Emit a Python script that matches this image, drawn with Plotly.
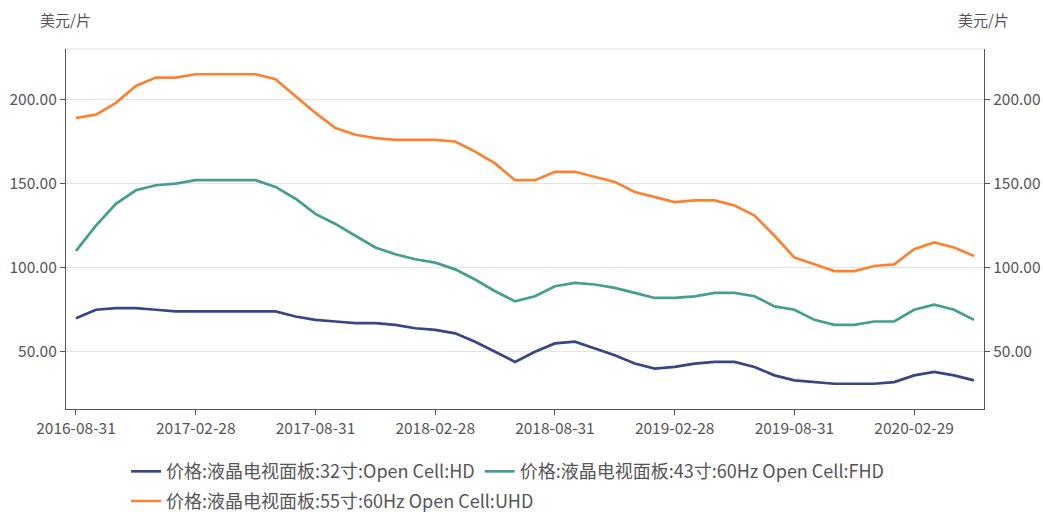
import plotly.graph_objects as go

dates = [
    "2016-08-31", "2016-09-30", "2016-10-31", "2016-11-30", "2016-12-31",
    "2017-01-31", "2017-02-28", "2017-03-31", "2017-04-30", "2017-05-31",
    "2017-06-30", "2017-07-31", "2017-08-31", "2017-09-30", "2017-10-31",
    "2017-11-30", "2017-12-31", "2018-01-31", "2018-02-28", "2018-03-31",
    "2018-04-30", "2018-05-31", "2018-06-30", "2018-07-31", "2018-08-31",
    "2018-09-30", "2018-10-31", "2018-11-30", "2018-12-31", "2019-01-31",
    "2019-02-28", "2019-03-31", "2019-04-30", "2019-05-31", "2019-06-30",
    "2019-07-31", "2019-08-31", "2019-09-30", "2019-10-31", "2019-11-30",
    "2019-12-31", "2020-01-31", "2020-02-29", "2020-03-31", "2020-04-30",
    "2020-05-31",
]

hd32 = [70, 75, 76, 76, 75, 74, 74, 74, 74, 74, 74, 71, 69, 68, 67, 67,
        66, 64, 63, 61, 56, 50, 44, 50, 55, 56, 52, 48, 43, 40, 41, 43,
        44, 44, 41, 36, 33, 32, 31, 31, 31, 32, 36, 38, 36, 33]
fhd43 = [110, 125, 138, 146, 149, 150, 152, 152, 152, 152, 148, 141, 132, 126,
         119, 112, 108, 105, 103, 99, 93, 86, 80, 83, 89, 91, 90, 88, 85, 82,
         82, 83, 85, 85, 83, 77, 75, 69, 66, 66, 68, 68, 75, 78, 75, 69]
uhd55 = [189, 191, 198, 208, 213, 213, 215, 215, 215, 215, 212, 202, 192, 183,
         179, 177, 176, 176, 176, 175, 169, 162, 152, 152, 157, 157, 154, 151,
         145, 142, 139, 140, 140, 137, 131, 119, 106, 102, 98, 98, 101, 102,
         111, 115, 112, 107]

names = [
    "价格:液晶电视面板:32寸:Open Cell:HD",
    "价格:液晶电视面板:43寸:60Hz Open Cell:FHD",
    "价格:液晶电视面板:55寸:60Hz Open Cell:UHD",
]
colors = ["#3a4684", "#43a08b", "#fd8230"]
tick_labels = ["2016-08-31", "2017-02-28", "2017-08-31", "2018-02-28",
               "2018-08-31", "2019-02-28", "2019-08-31", "2020-02-29"]
unit = "美元/片"

FONT = "Noto Sans CJK SC, Microsoft YaHei, sans-serif"
Y_RANGE = [16, 230]
TXT = "#555555"

fig = go.Figure()
for name, vals, col, ax, lg in zip(names, [hd32, fhd43, uhd55], colors,
                                   ["y", "y", "y2"], ["legend", "legend", "legend2"]):
    fig.add_trace(go.Scatter(
        x=dates, y=vals, name=name, mode="lines", yaxis=ax, legend=lg,
        line=dict(color=col, width=2.7),
    ))

axis_common = dict(
    range=Y_RANGE, tickvals=[50, 100, 150, 200], tickformat=".2f",
    showline=True, linecolor="#555555", linewidth=1.2,
    ticks="outside", ticklen=5, tickcolor="#555555",
    tickfont=dict(size=15.5, color=TXT, family=FONT),
    zeroline=False, automargin=False,
)

legend_common = dict(
    orientation="h", x=0.0654, xanchor="left", yref="container", yanchor="top",
    font=dict(size=18, color=TXT, family=FONT),
    itemwidth=30, tracegroupgap=0, bgcolor="rgba(0,0,0,0)",
)

fig.update_layout(
    width=1043, height=512,
    margin=dict(l=66, r=59, t=49, b=103),
    paper_bgcolor="white", plot_bgcolor="white",
    font=dict(family=FONT, color=TXT),
    showlegend=True,
    xaxis=dict(
        type="category", range=[-0.5, len(dates) - 0.5],
        tickvals=tick_labels, ticktext=tick_labels,
        showline=True, linecolor="#555555", linewidth=1.2,
        ticks="outside", ticklen=5, tickcolor="#555555",
        tickfont=dict(size=15.5, color=TXT, family=FONT),
        showgrid=False, automargin=False,
    ),
    yaxis=dict(side="left", showgrid=True, gridcolor="#e3e3e3", gridwidth=1, **axis_common),
    yaxis2=dict(side="right", overlaying="y", showgrid=False, **axis_common),
    legend=dict(y=0.115, **legend_common),
    legend2=dict(y=0.057, **legend_common),
    shapes=[dict(type="line", xref="paper", yref="paper", x0=0, x1=1, y0=1, y1=1,
                 line=dict(color="#e3e3e3", width=1))],
    annotations=[
        dict(text=unit, xref="paper", yref="paper", x=-0.001, y=1.0806,
             xanchor="center", yanchor="middle", showarrow=False,
             font=dict(size=15, color=TXT, family=FONT)),
        dict(text=unit, xref="paper", yref="paper", x=0.999, y=1.0806,
             xanchor="center", yanchor="middle", showarrow=False,
             font=dict(size=15, color=TXT, family=FONT)),
    ],
)

fig.write_html(
    "out.html",
    config={"displayModeBar": False},
    post_script="document.body.style.margin='0';document.body.style.padding='0';",
)
